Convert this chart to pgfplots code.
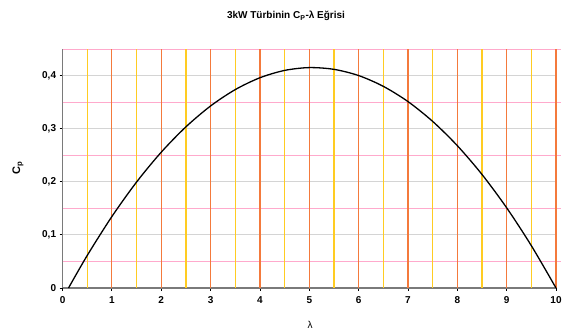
\documentclass[border=0pt]{standalone}
\usepackage{pgfplots}
\pgfplotsset{compat=1.18}
\usepackage{fontspec}
\setmainfont{Liberation Sans}
\definecolor{gint}{HTML}{F47A3C}
\definecolor{ghalf}{HTML}{FFCC22}
\definecolor{gpink}{HTML}{FFAACC}
\definecolor{ggray}{HTML}{D4D4D4}
\definecolor{axgray}{HTML}{7A7A7A}
\pgfplotstableread{
x y
0.12 0
0.5 0.0614
1 0.1347
1.5 0.1996
2 0.2558
2.5 0.3035
3 0.3428
3.5 0.3736
4 0.3959
4.5 0.4097
5 0.4150
5.5 0.4117
6 0.4000
6.5 0.3797
7 0.3510
7.5 0.3137
8 0.2680
8.5 0.2138
9 0.1510
9.5 0.0797
10 0
}\cpdata
\begin{document}
\begin{tikzpicture}
\useasboundingbox (-62.6pt,-44pt) rectangle (500.4pt,288pt);
\begin{axis}[
  at={(0pt,0pt)}, anchor=origin,
  scale only axis, width=493.4pt, height=239pt,
  xmin=0, xmax=10, ymin=0, ymax=0.45,
  axis x line*=bottom, axis y line*=left,
  axis line style={axgray, line width=1.4pt, -},
  xtick={0,1,...,10}, ytick={0,0.1,0.2,0.3,0.4},
  tick style={black, line width=0.9pt},
  tick align=outside, major tick length=3pt,
  /pgf/number format/assume math mode=true,
  /pgf/number format/use comma,
  yticklabel style={/pgf/number format/fixed, /pgf/number format/precision=1},
  ticklabel style={font=\fontsize{10}{12}\selectfont\bfseries},
  xticklabel style={yshift=-2pt},
  clip=false,
]
\pgfplotsinvokeforeach{0.05,0.15,0.25,0.35,0.45}{
  \draw[gpink, line width=1pt] (axis cs:0,#1) -- (axis cs:10.1,#1);
}
\pgfplotsinvokeforeach{0.1,0.2,0.3,0.4}{
  \draw[ggray, line width=1pt] (axis cs:0,#1) -- (axis cs:10,#1);
}
\pgfplotsinvokeforeach{0.5,1.5,2.5,3.5,4.5,5.5,6.5,7.5,8.5,9.5}{
  \draw[ghalf, line width=1.1pt] (axis cs:#1,0) -- (axis cs:#1,0.45);
}
\pgfplotsinvokeforeach{1,2,3,4,5,6,7,8,9,10}{
  \draw[gint, line width=1.1pt] (axis cs:#1,0) -- (axis cs:#1,0.45);
}
\addplot[black, line width=1.3pt, smooth] table[x=x, y=y] {\cpdata};
\end{axis}
\node[font=\fontsize{10}{12}\selectfont\bfseries] at (223.4pt,272pt) {3kW Türbinin C\textsubscript{P}-λ Eğrisi};
\node[font=\fontsize{11}{13}\selectfont\bfseries, rotate=90] at (-44.6pt,120pt) {C\textsubscript{p}};
\node[font=\fontsize{10}{12}\selectfont] at (247.4pt,-37pt) {λ};
\end{tikzpicture}
\end{document}
